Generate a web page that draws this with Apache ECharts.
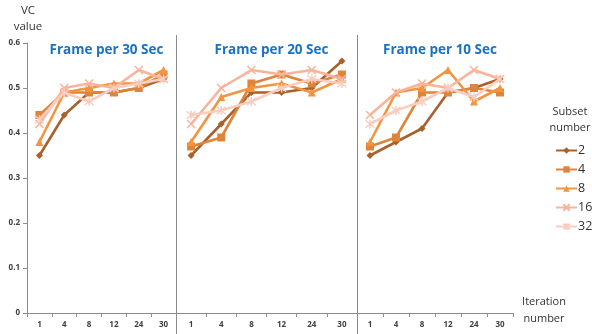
<!DOCTYPE html>
<html>
<head>
<meta charset="utf-8">
<script src="https://cdn.jsdelivr.net/npm/echarts@6/dist/echarts.min.js"></script>
<style>
  html, body { margin: 0; padding: 0; background: #fff; }
  #chart { width: 592px; height: 334px; }
</style>
</head>
<body>
<div id="chart"></div>
<script>
// Iteration numbers shared by every panel
const iterations = ['1', '4', '8', '12', '24', '30'];
const subsetNames = ['2', '4', '8', '16', '32'];
const panelTitles = ['Frame per 30 Sec', 'Frame per 20 Sec', 'Frame per 10 Sec'];

// VC value per subset number, frame rate 30 sec
const fps30_s2  = [0.35, 0.44, 0.49, 0.49, 0.50, 0.52];
const fps30_s4  = [0.44, 0.49, 0.49, 0.49, 0.50, 0.53];
const fps30_s8  = [0.38, 0.49, 0.50, 0.51, 0.51, 0.54];
const fps30_s16 = [0.42, 0.50, 0.51, 0.50, 0.54, 0.52];
const fps30_s32 = [0.43, 0.49, 0.47, 0.50, 0.51, 0.52];

// frame rate 20 sec
const fps20_s2  = [0.35, 0.42, 0.49, 0.49, 0.50, 0.56];
const fps20_s4  = [0.37, 0.39, 0.51, 0.53, 0.51, 0.53];
const fps20_s8  = [0.38, 0.48, 0.50, 0.51, 0.49, 0.52];
const fps20_s16 = [0.42, 0.50, 0.54, 0.53, 0.54, 0.52];
const fps20_s32 = [0.44, 0.45, 0.47, 0.50, 0.52, 0.51];

// frame rate 10 sec
const fps10_s2  = [0.35, 0.38, 0.41, 0.49, 0.50, 0.52];
const fps10_s4  = [0.37, 0.39, 0.49, 0.49, 0.50, 0.49];
const fps10_s8  = [0.38, 0.49, 0.50, 0.54, 0.47, 0.50];
const fps10_s16 = [0.44, 0.49, 0.51, 0.50, 0.54, 0.52];
const fps10_s32 = [0.42, 0.45, 0.47, 0.50, 0.48, 0.52];

const yTicks = [0, 0.1, 0.2, 0.3, 0.4, 0.5, 0.6];

const panels = [
  [fps30_s2, fps30_s4, fps30_s8, fps30_s16, fps30_s32],
  [fps20_s2, fps20_s4, fps20_s8, fps20_s16, fps20_s32],
  [fps10_s2, fps10_s4, fps10_s8, fps10_s16, fps10_s32]
];

const colors = ['#a8612c', '#e0843a', '#f4943f', '#f8b49a', '#f9cdbf'];
const crossPath = 'path://M0,0L10,10M10,0L0,10';
const starPath = 'path://M0,0L10,10M10,0L0,10M5,-1L5,11';
const symbols = ['diamond', 'rect', 'triangle', crossPath, starPath];
const symbolSizes = [7, 8, 8, 8, 9];

// pixel extents of the three panels
const panelBounds = [[27, 176], [176, 357], [357, 513]];
const W = 592, H = 334, plotTop = 43, plotBottom = 313;

const chart = echarts.init(document.getElementById('chart'), null, { renderer: 'canvas' });

const grids = panelBounds.map(b => ({
  left: b[0], right: W - b[1], top: plotTop, bottom: H - plotBottom, containLabel: false
}));

const axisGray = '#8c8c8c';
const labelFont = { fontSize: 8, color: '#404040', fontFamily: 'Open Sans', fontWeight: 'bold' };

const xAxes = panelBounds.map((b, i) => ({
  type: 'category', gridIndex: i, data: iterations, boundaryGap: true,
  axisLine: { show: true, lineStyle: { color: axisGray, width: 1 } },
  axisTick: { show: true, alignWithLabel: false, interval: 0, length: 4, lineStyle: { color: axisGray } },
  axisLabel: Object.assign({ interval: 0, margin: 8 }, labelFont),
  splitLine: { show: false }
}));

const yAxes = panelBounds.map((b, i) => ({
  type: 'value', gridIndex: i, min: yTicks[0], max: yTicks[yTicks.length - 1], interval: 0.1,
  axisLine: { show: i === 0, lineStyle: { color: axisGray, width: 1 } },
  axisTick: { show: i === 0, length: 4, lineStyle: { color: axisGray } },
  axisLabel: Object.assign({
    show: i === 0, margin: 7,
    formatter: v => (Math.round(v * 10) / 10).toString()
  }, labelFont),
  splitLine: { show: false }
}));

const series = [];
panels.forEach((panel, p) => {
  panel.forEach((vals, s) => {
    const isStroke = s >= 3;
    series.push({
      name: subsetNames[s], type: 'line', xAxisIndex: p, yAxisIndex: p,
      data: vals, symbol: symbols[s], symbolSize: symbolSizes[s], showSymbol: true,
      lineStyle: { color: colors[s], width: 2.6 },
      itemStyle: isStroke
        ? { color: colors[s], borderColor: colors[s], borderWidth: 1.5 }
        : { color: colors[s], borderWidth: 0 },
      emphasis: { disabled: true }, animation: false, z: 2 + s
    });
  });
});

const titles = panelTitles.map((t, i) => ({
  text: t,
  left: (panelBounds[i][0] + panelBounds[i][1]) / 2, top: 38, textAlign: 'center',
  textStyle: { color: '#1a72c4', fontSize: 13.5, fontWeight: 'bold', fontFamily: 'Open Sans' }
}));

const nameText = (txt, x, y, lh, size) => ({
  type: 'text', x: x, y: y, silent: true,
  style: { text: txt, fill: '#333', font: size + 'px "Open Sans"', align: 'center', verticalAlign: 'top', lineHeight: lh }
});

chart.setOption({
  backgroundColor: '#ffffff',
  animation: false,
  title: titles,
  grid: grids,
  xAxis: xAxes,
  yAxis: yAxes,
  legend: {
    data: subsetNames, orient: 'vertical', left: 550, top: 139,
    itemWidth: 21, itemHeight: 8, itemGap: 6,
    textStyle: { color: '#333', fontSize: 12.5, fontFamily: 'Open Sans', padding: [0, 0, 0, -4] },
    selectedMode: false
  },
  graphic: [
    { type: 'line', shape: { x1: 176.5, y1: 35, x2: 176.5, y2: 334 }, style: { stroke: axisGray, lineWidth: 1 } },
    { type: 'line', shape: { x1: 357.5, y1: 35, x2: 357.5, y2: 334 }, style: { stroke: axisGray, lineWidth: 1 } },
    nameText('VC\nvalue', 28, 3, 16, 11.5),
    nameText('Iteration\nnumber', 544, 293, 17, 11),
    nameText('Subset\nnumber', 570, 104, 16, 11)
  ],
  series: series
});
</script>
</body>
</html>
